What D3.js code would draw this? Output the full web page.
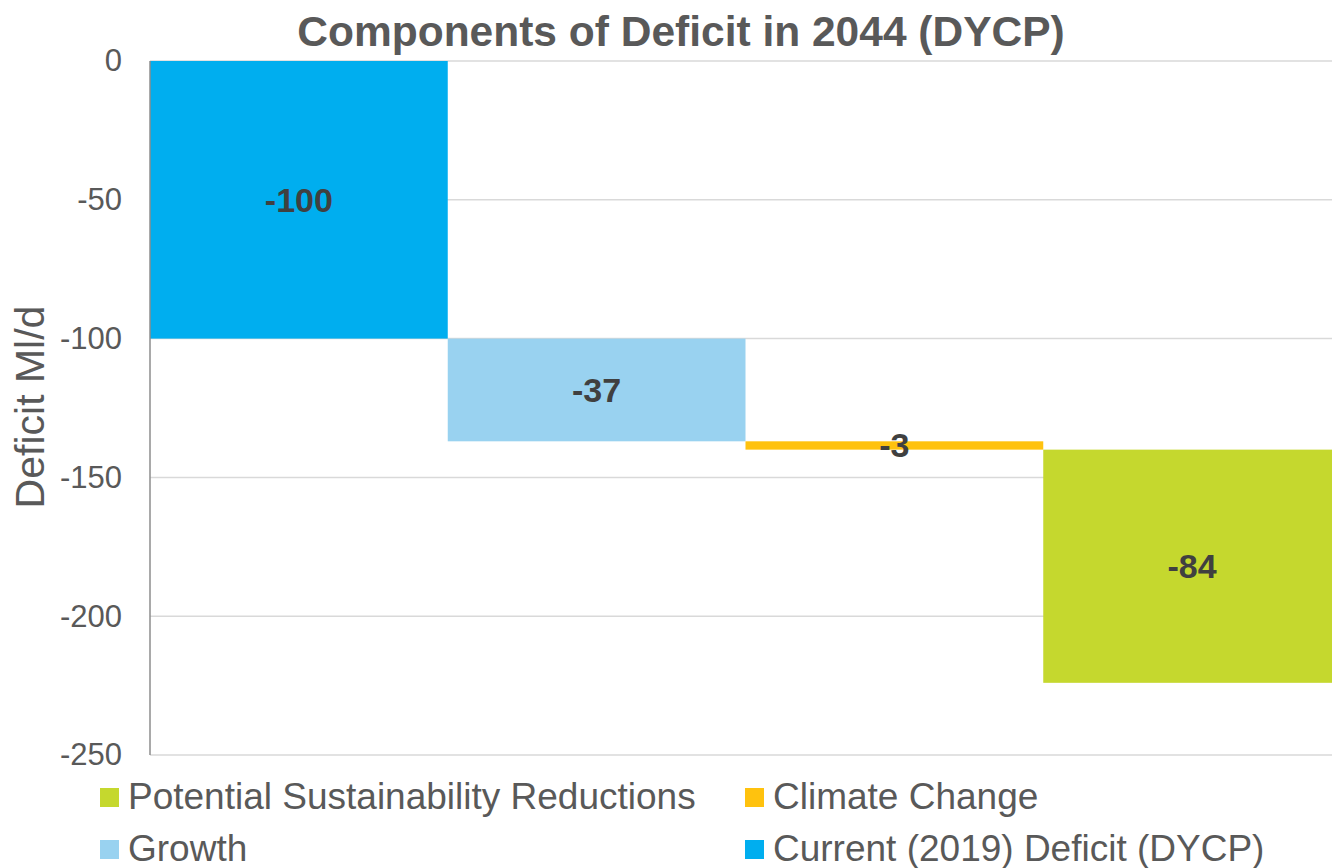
<!DOCTYPE html>
<html>
<head>
<meta charset="utf-8">
<script src="https://cdn.jsdelivr.net/npm/d3@7"></script>
<style>
  html, body { margin: 0; padding: 0; background: #fff; }
  svg { display: block; font-family: "Liberation Sans", Arial, sans-serif; }
</style>
</head>
<body>
<svg id="chart" width="1332" height="868"></svg>
<script>
// ---- data ----
const categories = ["Current (2019) Deficit (DYCP)", "Growth", "Climate Change", "Potential Sustainability Reductions"];
const values = [-100, -37, -3, -84];
const colors = ["#00AEEF", "#99D2F0", "#FFC20E", "#C5D82E"];
const legendOrder = ["Potential Sustainability Reductions", "Climate Change", "Growth", "Current (2019) Deficit (DYCP)"];
const yTicks = [0, -50, -100, -150, -200, -250];
const title = "Components of Deficit in 2044 (DYCP)";
const yTitle = "Deficit Ml/d";

// ---- layout ----
const svg = d3.select("#chart");
const plot = { left: 150, right: 1341, top: 61, bottom: 755 };

const x = d3.scaleBand().domain(categories).range([plot.left, plot.right]).padding(0);
const y = d3.scaleLinear().domain([-250, 0]).range([plot.bottom, plot.top]);

// waterfall bases (cumulative)
let run = 0;
const bars = categories.map((c, i) => {
  const start = run;
  run += values[i];
  return { cat: c, value: values[i], start, end: run, color: colors[i] };
});

// gridlines
svg.append("g").selectAll("line").data(yTicks).join("line")
  .attr("x1", plot.left).attr("x2", plot.right)
  .attr("y1", d => y(d)).attr("y2", d => y(d))
  .attr("stroke", "#D9D9D9").attr("stroke-width", 1.5);

// bars
svg.append("g").selectAll("rect").data(bars).join("rect")
  .attr("x", d => x(d.cat))
  .attr("width", x.bandwidth())
  .attr("y", d => y(Math.max(d.start, d.end)))
  .attr("height", d => Math.abs(y(d.end) - y(d.start)))
  .attr("fill", d => d.color);

// y axis line
svg.append("line")
  .attr("x1", plot.left).attr("x2", plot.left)
  .attr("y1", plot.top).attr("y2", plot.bottom)
  .attr("stroke", "#8C8C8C").attr("stroke-width", 1.5);

// y axis via d3 axis
const yAxis = d3.axisLeft(y).tickValues(yTicks).tickSize(0).tickPadding(28).tickFormat(d => String(d));
const gy = svg.append("g").attr("transform", `translate(${plot.left},0)`).call(yAxis);
gy.select(".domain").remove();
gy.selectAll("text")
  .attr("fill", "#595959")
  .style("font-size", "31px")
  .style("font-family", "'Liberation Sans', Arial, sans-serif");

// bar labels
svg.append("g").selectAll("text").data(bars).join("text")
  .attr("x", d => x(d.cat) + x.bandwidth() / 2)
  .attr("y", d => (y(d.start) + y(d.end)) / 2 + 12)
  .attr("text-anchor", "middle")
  .attr("fill", "#404040")
  .style("font-size", "34px")
  .style("font-weight", "bold")
  .text(d => d.value);

// title
svg.append("text")
  .attr("x", 681).attr("y", 46)
  .attr("text-anchor", "middle")
  .attr("fill", "#595959")
  .style("font-size", "42.5px")
  .style("font-weight", "bold")
  .text(title);

// y title
svg.append("text")
  .attr("transform", `translate(44, 407) rotate(-90)`)
  .attr("text-anchor", "middle")
  .attr("fill", "#595959")
  .style("font-size", "41px")
  .text(yTitle);

// legend
const legendPos = [
  { x: 100, y: 809 }, { x: 745, y: 809 },
  { x: 100, y: 861 }, { x: 745, y: 861 }
];
const colorOf = name => colors[categories.indexOf(name)];
const lg = svg.append("g").selectAll("g").data(legendOrder).join("g")
  .attr("transform", (d, i) => `translate(${legendPos[i].x},${legendPos[i].y})`);
lg.append("rect").attr("x", 0).attr("y", -21).attr("width", 19).attr("height", 19)
  .attr("fill", d => colorOf(d));
lg.append("text").attr("x", 28).attr("y", 0)
  .attr("fill", "#595959")
  .style("font-size", "37px")
  .text(d => d);
</script>
</body>
</html>
